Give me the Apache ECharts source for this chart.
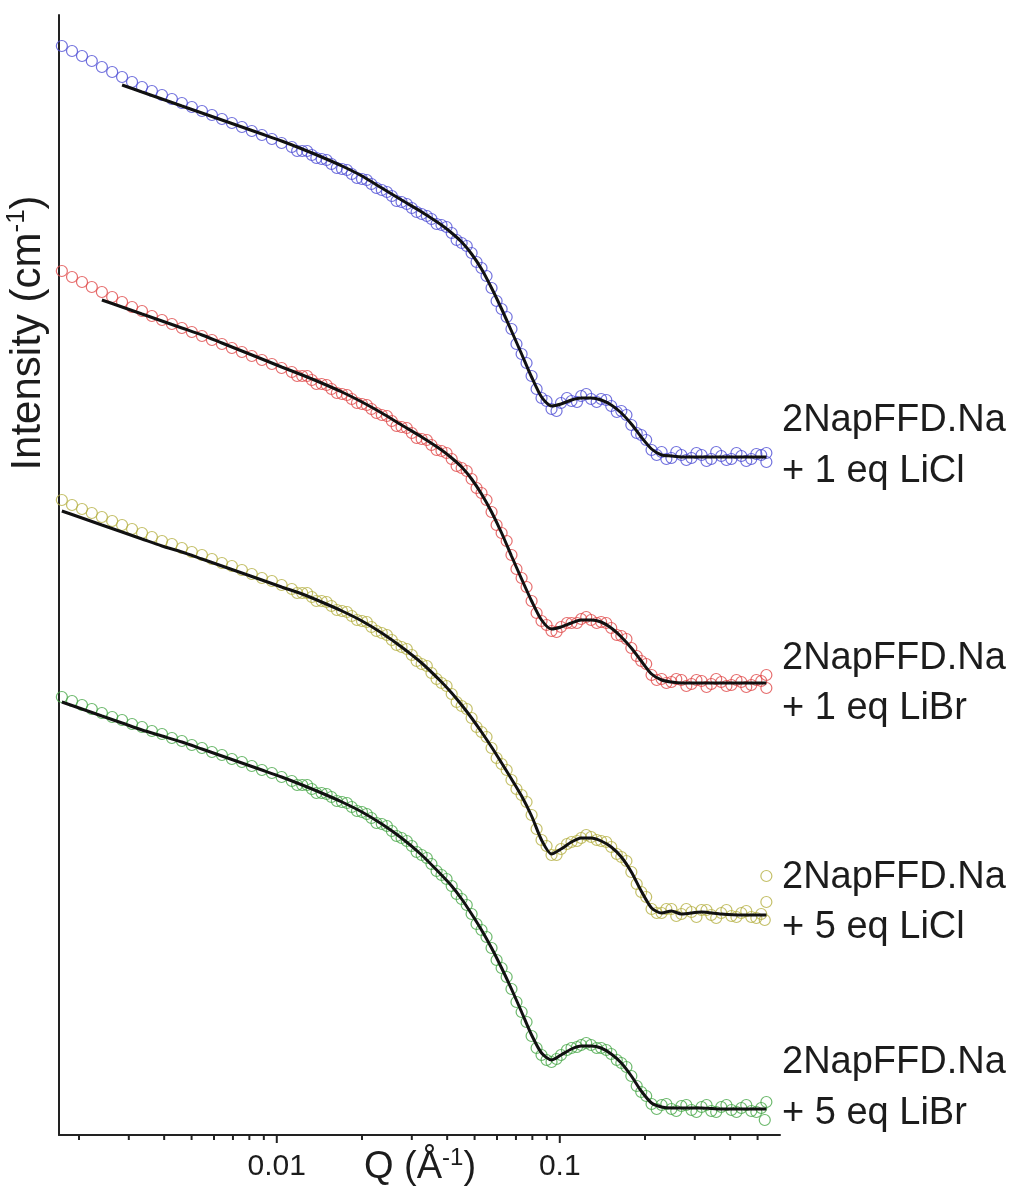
<!DOCTYPE html>
<html>
<head>
<meta charset="utf-8">
<script src="https://cdn.jsdelivr.net/npm/echarts@6/dist/echarts.min.js"></script>
<style>
html,body{margin:0;padding:0;background:#fff;}
#chart{width:1017px;height:1191px;}
</style>
</head>
<body>
<div id="chart"></div>
<script>
// Q values (Å^-1) of the measured points
const qData = [0.00174,0.00189,0.00205,0.00222,0.00241,0.00262,0.00284,0.00308,0.00334,0.00362,
  0.00393,0.00426,0.00462,0.00501,0.00544,0.00590,0.00640,0.00694,0.00753,0.00816,
  0.00886,0.00961,0.0104,0.0113,0.0123,0.0133,0.0144,0.0156,0.0170,0.0184,
  0.0200,0.0216,0.0235,0.0255,0.0276,0.0300,0.0325,0.0352,0.0382,0.0415,
  0.0450,0.0488,0.0529,0.0574,0.0623,0.0675,0.0733,0.0795,0.0862,0.0935,
  0.101,0.110,0.119,0.129,0.140,0.152,0.165,0.179,0.194,0.211,
  0.229,0.248,0.269,0.292,0.317,0.343,0.372,0.404,0.438,0.475,
  0.515,0.537];
// further measured Q values (interleaved, denser region)
const qDataB = [0.0118,0.0128,0.0138,0.0150,0.0163,0.0177,0.0192,0.0208,0.0225,0.0245,
  0.0265,0.0288,0.0312,0.0339,0.0367,0.0398,0.0432,0.0469,0.0508,0.0551,
  0.0598,0.0649,0.0703,0.0763,0.0828,0.0898,0.0974,0.106,0.115,0.124,
  0.135,0.146,0.159,0.172,0.187,0.202,0.220,0.238,0.258,0.280,
  0.304,0.330,0.357,0.388,0.421,0.456,0.495];
// Q values of the fit curves
const qFit = [0.00174,0.00205,0.00241,0.00284,0.00334,0.00393,0.00462,0.00544,0.00640,0.00753,
  0.00886,0.0104,0.0123,0.0144,0.0170,0.0200,0.0235,0.0276,0.0325,0.0382,
  0.0415,0.0450,0.0488,0.0529,0.0574,0.0623,0.0675,0.0733,0.0795,0.0862,
  0.0935,0.101,0.110,0.119,0.129,0.140,0.152,0.165,0.179,0.194,
  0.211,0.229,0.248,0.269,0.317,0.372,0.438,0.515,0.537];

// offset intensities (arbitrary units, curves stacked)
const blueData = [108.9,108.4,107.9,107.4,106.8,106.3,105.8,105.3,104.8,104.4,
  104.0,103.6,103.2,102.8,102.4,102.0,101.6,101.2,100.8,100.4,
  100.0,99.6,99.2,98.8,98.4,98.0,97.6,97.1,96.6,96.1,
  95.6,95.1,94.5,93.9,93.3,92.7,92.1,91.6,91.0,90.2,
  89.2,88.2,86.7,84.7,82.6,80.6,78.1,75.9,73.7,72.6,
  73.2,73.4,73.9,73.6,73.6,72.9,72.4,71.0,70.0,68.5,
  68.3,67.7,68.0,67.7,68.0,67.6,67.9,67.6,67.9,67.6,
  68.0,67.3];
const blueDataB = [98.4,98.4,97.7,97.5,96.7,96.5,95.7,95.5,94.7,94.3,
  93.4,93.1,92.3,91.9,91.1,90.8,89.5,88.9,87.3,85.9,
  83.4,81.8,79.1,77.2,74.6,73.4,72.4,73.7,73.3,74.1,
  73.3,73.5,72.3,72.0,70.2,69.5,68.0,67.6,68.3,67.5,
  68.2,67.4,68.3,67.5,68.2,67.4,68.1];
const redData = [86.4,85.8,85.3,84.8,84.3,83.8,83.3,82.8,82.4,81.9,
  81.5,81.1,80.7,80.3,79.9,79.5,79.1,78.7,78.3,77.9,
  77.5,77.1,76.7,76.3,75.9,75.5,75.1,74.6,74.1,73.6,
  73.1,72.6,72.0,71.4,70.8,70.2,69.6,69.0,68.4,67.6,
  66.7,65.6,64.2,62.3,60.2,58.0,55.7,53.4,51.4,50.4,
  50.8,51.2,51.6,51.5,51.3,50.7,49.9,48.7,47.4,46.0,
  45.6,45.3,45.5,45.1,45.4,45.1,45.3,45.0,45.3,45.0,
  45.4,44.7];
const redDataB = [75.9,75.9,75.1,75.0,74.2,74.0,73.2,73.0,72.2,71.9,
  70.9,70.7,69.7,69.5,68.5,68.2,66.9,66.4,64.7,63.5,
  61.0,59.4,56.6,54.8,52.2,51.0,50.3,51.2,51.2,51.8,
  51.2,51.2,50.0,49.6,47.9,47.1,45.5,45.2,45.6,44.9,
  45.5,44.8,45.6,44.9,45.5,44.8,45.5];
const yellowData = [63.5,63.0,62.6,62.2,61.8,61.4,61.0,60.6,60.2,59.8,
  59.4,59.1,58.7,58.3,58.0,57.6,57.2,56.9,56.5,56.1,
  55.7,55.4,55.0,54.6,54.2,53.8,53.4,52.9,52.4,51.9,
  51.4,50.8,50.2,49.5,48.8,48.0,47.1,46.2,45.2,44.1,
  42.9,41.7,40.3,38.7,37.1,35.5,34.0,32.0,29.5,28.0,
  28.6,29.3,29.7,29.8,29.4,28.8,27.8,26.3,24.3,22.6,
  22.2,22.6,22.1,22.3,22.5,22.0,22.2,21.9,22.2,21.8,
  22.1,23.3];
const yellowDataB = [54.2,54.2,53.4,53.3,52.5,52.3,51.5,51.3,50.4,50.0,
  49.0,48.6,47.4,46.9,45.6,44.9,43.3,42.6,40.8,39.8,
  37.7,36.5,34.6,33.3,30.6,28.9,28.0,29.1,29.4,30.0,
  29.5,29.3,28.1,27.4,25.1,23.8,22.2,22.6,21.9,22.6,
  21.8,22.5,21.7,22.5,21.8,22.4,21.7];
const greenData = [43.8,43.4,43.0,42.6,42.2,41.8,41.5,41.1,40.8,40.4,
  40.1,39.7,39.4,39.0,38.7,38.3,38.0,37.6,37.3,36.9,
  36.5,36.2,35.8,35.4,35.0,34.6,34.2,33.8,33.3,32.8,
  32.3,31.7,31.1,30.4,29.7,28.9,28.0,27.1,26.0,24.9,
  23.6,22.1,20.5,18.7,16.7,14.6,12.3,9.9,8.0,7.3,
  8.0,8.7,9.0,9.0,8.7,8.1,7.2,5.9,4.3,3.1,
  3.0,2.6,2.9,2.5,2.8,2.4,2.8,2.5,2.7,2.4,
  2.7,3.3];
const greenDataB = [35.0,35.0,34.2,34.1,33.4,33.2,32.4,32.1,31.2,30.9,
  29.9,29.4,28.3,27.7,26.4,25.6,24.1,23.0,21.1,19.8,
  17.5,15.8,13.3,11.3,8.7,7.5,7.6,8.5,8.8,9.2,
  8.7,8.5,7.5,6.8,4.9,3.9,2.6,3.1,2.4,3.0,
  2.3,3.0,2.3,3.0,2.3,3.0,2.3];
// extra end points [Q, value]
const blueEnd = [[0.537, 68.2]];
const redEnd = [[0.537, 46.0]];
const yellowEnd = [[0.537, 25.9], [0.530, 21.5]];
const greenEnd = [[0.530, 1.5]];

const blueFit = [null,null,null,105.0,104.3,103.6,102.9,102.2,101.5,100.8,
  100.1,99.4,98.6,97.8,96.9,95.9,94.7,93.5,92.3,91.0,
  90.2,89.3,88.1,86.6,84.7,82.6,80.4,78.1,75.8,73.8,
  72.9,73.1,73.5,73.7,73.7,73.5,73.0,72.2,71.1,69.8,
  68.6,68.0,67.9,67.8,67.8,67.8,67.8,67.8,67.8];
const redFit = [null,null,83.5,82.8,82.1,81.4,80.7,80.0,79.2,78.4,
  77.6,76.8,76.0,75.2,74.3,73.3,72.2,71.0,69.8,68.5,
  67.7,66.8,65.6,64.1,62.3,60.2,57.9,55.6,53.4,51.5,
  50.6,50.8,51.2,51.5,51.5,51.3,50.7,49.8,48.7,47.4,
  46.1,45.5,45.3,45.2,45.2,45.2,45.2,45.2,45.2];
const yellowFit = [62.4,61.7,61.0,60.3,59.6,58.9,58.3,57.6,56.9,56.2,
  55.5,54.8,54.1,53.3,52.4,51.4,50.2,48.8,47.2,45.3,
  44.2,43.0,41.7,40.3,38.8,37.2,35.6,33.9,31.9,29.5,
  28.1,28.6,29.3,29.7,29.7,29.4,28.8,27.8,26.3,24.4,
  22.7,22.2,22.4,22.1,22.3,22.1,22.0,22.0,22.0];
const greenFit = [43.3,42.6,41.9,41.2,40.5,39.9,39.3,38.6,37.9,37.2,
  36.5,35.8,35.0,34.2,33.3,32.3,31.1,29.7,28.0,26.0,
  24.9,23.6,22.1,20.5,18.7,16.7,14.6,12.3,10.0,8.2,
  7.5,8.0,8.6,8.9,8.9,8.7,8.1,7.2,5.9,4.4,
  3.2,2.8,2.7,2.7,2.7,2.6,2.6,2.6,2.6];

const sampleLine1 = ['2NapFFD.Na','2NapFFD.Na','2NapFFD.Na','2NapFFD.Na'];
const sampleLine2 = ['+ 1 eq LiCl','+ 1 eq LiBr','+ 5 eq LiCl','+ 5 eq LiBr'];
const colors = ['#4d4dd4','#e04a4a','#b5b044','#48a848'];

const minorTicks = [0.002,0.003,0.004,0.005,0.006,0.007,0.008,0.009,
  0.02,0.03,0.04,0.05,0.06,0.07,0.08,0.09,0.2,0.3,0.4,0.5];
const majorTicks = [0.01, 0.1];
const majorLabels = ['0.01', '0.1'];

const FONT = '"Liberation Sans", Arial, Helvetica, sans-serif';
const TXT = '#1c1c1c';

function pairs(q, v) {
  const out = [];
  q.forEach((x, i) => { if (v[i] != null) out.push([x, v[i]]); });
  return out;
}

const dataSets = [blueData, redData, yellowData, greenData];
const dataSetsB = [blueDataB, redDataB, yellowDataB, greenDataB];
const endSets = [blueEnd, redEnd, yellowEnd, greenEnd];
const fitSets = [blueFit, redFit, yellowFit, greenFit];

const series = [];
dataSets.forEach((d, i) => {
  series.push({
    type: 'scatter', name: sampleLine1[i] + ' ' + sampleLine2[i],
    data: pairs(qData, d).concat(pairs(qDataB, dataSetsB[i])).concat(endSets[i]),
    symbol: 'circle', symbolSize: 11,
    itemStyle: { color: 'rgba(255,255,255,0)', borderColor: colors[i], borderWidth: 1.2 },
    z: 2, silent: true
  });
});
fitSets.forEach((f, i) => {
  series.push({
    type: 'line', name: 'fit ' + i,
    data: pairs(qFit, f), showSymbol: false, smooth: 0.25,
    lineStyle: { color: '#111', width: 3 }, z: 3, silent: true
  });
});
const allTicks = minorTicks.map(q => [q, 0]).concat(majorTicks.map(q => [q, 0]));
series.push({
  type: 'custom', clip: false, silent: true, z: 5,
  data: allTicks,
  renderItem: function (params, api) {
    const q = api.value(0);
    const p = api.coord([q, 0]);
    const mi = majorTicks.indexOf(q);
    const len = mi >= 0 ? 8 : 5;
    const children = [{
      type: 'line',
      shape: { x1: p[0], y1: p[1], x2: p[0], y2: p[1] + len },
      style: { stroke: '#222', lineWidth: 2 }
    }];
    if (mi >= 0) {
      children.push({
        type: 'text',
        style: { text: majorLabels[mi], x: p[0], y: p[1] + 32, align: 'center', verticalAlign: 'middle',
          fontSize: 30, fontFamily: FONT, fill: TXT }
      });
    }
    return { type: 'group', children: children };
  }
});

const legendCenters = [[421, 472], [659, 709], [878, 928], [1063, 1114]];
const graphics = [];
legendCenters.forEach((c, i) => {
  graphics.push({ type: 'text', x: 782, y: c[0], style: { text: sampleLine1[i], fontSize: 38, fontFamily: FONT, fill: TXT, verticalAlign: 'middle' } });
  graphics.push({ type: 'text', x: 782, y: c[1], style: { text: sampleLine2[i], fontSize: 38, fontFamily: FONT, fill: TXT, verticalAlign: 'middle' } });
});
graphics.push({
  type: 'text', x: 420, y: 1168,
  style: { text: '{m|Q (Å}{s|-1}{m|)}', align: 'center', verticalAlign: 'middle', fill: TXT,
    rich: { m: { fontSize: 38, fontFamily: FONT, fill: TXT, lineHeight: 44 },
            s: { fontSize: 24, fontFamily: FONT, fill: TXT, verticalAlign: 'top', lineHeight: 30 } } }
});
graphics.push({
  type: 'text', x: 28, y: 333, rotation: Math.PI / 2,
  style: { text: '{m|Intensity (cm}{s|-1}{m|)}', align: 'center', verticalAlign: 'middle', fill: TXT,
    rich: { m: { fontSize: 42, fontFamily: FONT, fill: TXT, lineHeight: 48 },
            s: { fontSize: 26, fontFamily: FONT, fill: TXT, verticalAlign: 'top', lineHeight: 32 } } }
});

const chart = echarts.init(document.getElementById('chart'), null, { renderer: 'canvas' });
chart.setOption({
  animation: false,
  backgroundColor: '#fff',
  grid: { left: 59, right: 237, top: 15, bottom: 56, containLabel: false },
  xAxis: {
    type: 'log', logBase: 10, min: 0.0017, max: 0.6,
    axisLine: { show: true, onZero: false, lineStyle: { color: '#222', width: 2 } },
    axisTick: { show: false }, axisLabel: { show: false }, splitLine: { show: false }, minorTick: { show: false }
  },
  yAxis: {
    type: 'value', min: 0, max: 112,
    axisLine: { show: true, lineStyle: { color: '#222', width: 2 } },
    axisTick: { show: false }, axisLabel: { show: false }, splitLine: { show: false }
  },
  graphic: graphics,
  series: series
});
</script>
</body>
</html>
